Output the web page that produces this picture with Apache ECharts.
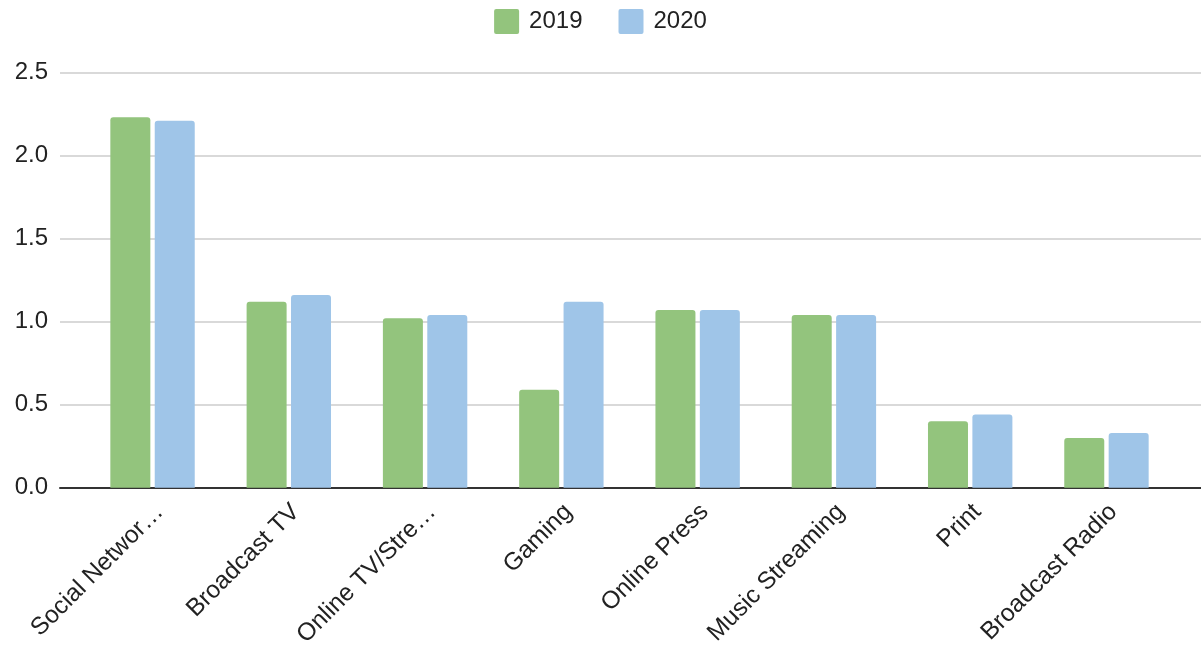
<!DOCTYPE html>
<html>
<head>
<meta charset="utf-8">
<script src="https://cdn.jsdelivr.net/npm/echarts@6/dist/echarts.min.js"></script>
<style>
html,body{margin:0;padding:0;background:#fff;}
#chart{width:1201px;height:650px;}
</style>
</head>
<body>
<div id="chart"></div>
<script>
const categories = ["Social Networ\u2026", "Broadcast TV", "Online TV/Stre\u2026", "Gaming", "Online Press", "Music Streaming", "Print", "Broadcast Radio"];
const values2019 = [2.23, 1.12, 1.02, 0.59, 1.07, 1.04, 0.40, 0.30];
const values2020 = [2.21, 1.16, 1.04, 1.12, 1.07, 1.04, 0.44, 0.33];
const seriesNames = ["2019", "2020"];
const yMin = 0, yMax = 2.5, yStep = 0.5;

const FONT = '"Liberation Sans", Arial, sans-serif';
const ICON = 'path://M2,0H23Q25,0 25,2V23Q25,25 23,25H2Q0,25 0,23V2Q0,0 2,0Z';
const chart = echarts.init(document.getElementById('chart'), null, {renderer: 'canvas'});
chart.setOption({
  animation: false,
  textStyle: {fontFamily: FONT},
  legend: {
    data: seriesNames.map(n => ({name: n, icon: ICON})),
    top: 4,
    left: 'center',
    itemWidth: 25,
    itemHeight: 25,
    itemGap: 36,
    textStyle: {fontSize: 24, color: '#222', fontFamily: FONT, padding: [0, 0, 0, 5]}
  },
  grid: [
    {left: 60, right: 0, top: 72.5, bottom: 162.3, containLabel: false},
    {left: 84.4, right: 26.4, top: 72.5, bottom: 162.3, containLabel: false},
    {left: 91.4, right: 19.4, top: 72.5, bottom: 162.3, containLabel: false}
  ],
  xAxis: [
    {gridIndex: 0, type: 'value', min: 0, max: 1, axisLabel: {show: false}, axisTick: {show: false}, splitLine: {show: false},
     axisLine: {show: true, lineStyle: {color: '#333', width: 2}}},
    {gridIndex: 1, type: 'category', data: categories, axisLabel: {show: false}, axisTick: {show: false}, axisLine: {show: false}, splitLine: {show: false}},
    {gridIndex: 2, type: 'category', data: categories, axisTick: {show: false}, axisLine: {show: false}, splitLine: {show: false},
     axisLabel: {show: true, interval: 0, rotate: 45, margin: 25, fontSize: 24.5, color: '#222', fontFamily: FONT}}
  ],
  yAxis: [
    {gridIndex: 0, type: 'value', min: yMin, max: yMax, interval: yStep,
     axisLine: {show: false}, axisTick: {show: false},
     axisLabel: {margin: 12, fontSize: 24, color: '#222', fontFamily: FONT, formatter: v => v.toFixed(1)},
     splitLine: {show: true, lineStyle: {color: '#cccccc', width: 1.5}}},
    {gridIndex: 1, type: 'value', min: yMin, max: yMax, interval: yStep, show: false, splitLine: {show: false}},
    {gridIndex: 2, type: 'value', min: yMin, max: yMax, interval: yStep, show: false, splitLine: {show: false}}
  ],
  series: [
    {name: seriesNames[0], type: 'bar', xAxisIndex: 1, yAxisIndex: 1, data: values2019, barWidth: 40, barGap: '11%',
     itemStyle: {color: '#93c47d', borderRadius: [3, 3, 0, 0]}, z: 1},
    {name: seriesNames[1], type: 'bar', xAxisIndex: 1, yAxisIndex: 1, data: values2020, barWidth: 40, barGap: '11%',
     itemStyle: {color: '#9fc5e8', borderRadius: [3, 3, 0, 0]}, z: 1}
  ]
});
</script>
</body>
</html>
